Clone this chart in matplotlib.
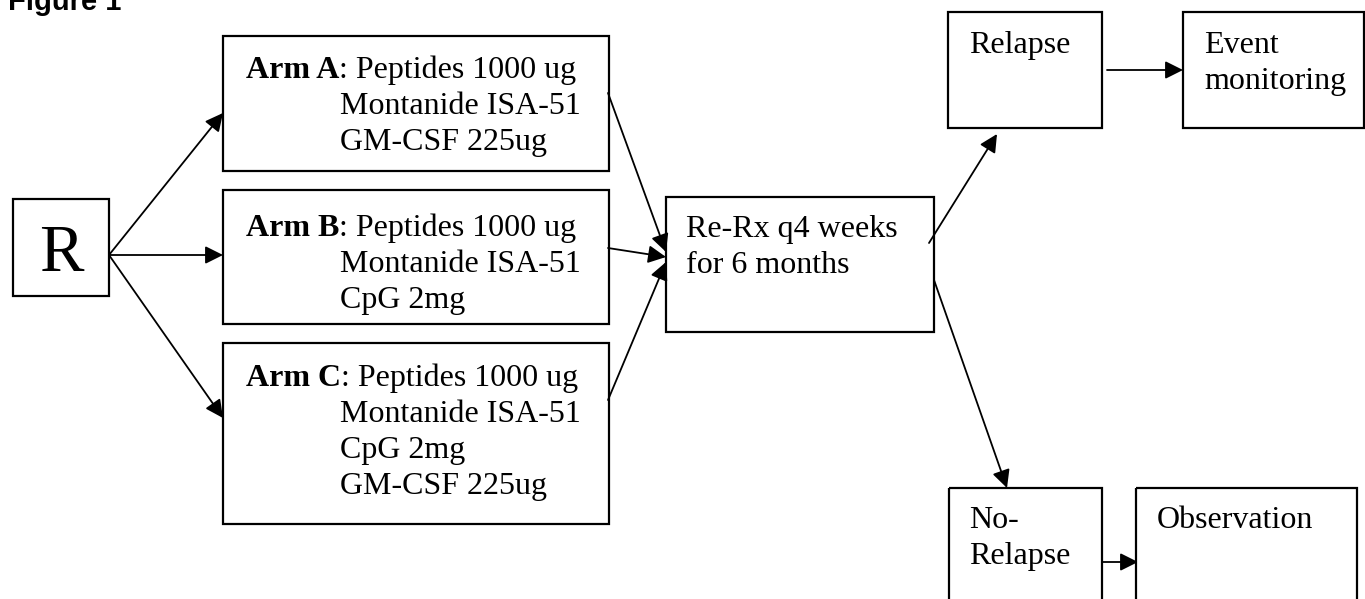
import matplotlib
matplotlib.use("Agg")
import matplotlib.pyplot as plt
from matplotlib.patches import Rectangle

# labels
arm_names = ["Arm A", "Arm B", "Arm C"]
arm_first = [": Peptides 1000 ug", ": Peptides 1000 ug", ": Peptides 1000 ug"]
arm_rest = [["Montanide ISA-51", "GM-CSF 225ug"],
            ["Montanide ISA-51", "CpG 2mg"],
            ["Montanide ISA-51", "CpG 2mg", "GM-CSF 225ug"]]
rerx_lines = ["Re-Rx q4 weeks", "for 6 months"]
relapse_lines = ["Relapse"]
event_lines = ["Event", "monitoring"]
norelapse_lines = ["No-", "Relapse"]
obs_lines = ["Observation"]
title = "Figure 1"

# layout in pixel coords (x, top, width, height)
W, H = 1365, 599
r_box = (13, 199, 96, 97)
arm_boxes = [(223, 36, 386, 135), (223, 190, 386, 134), (223, 343, 386, 181)]
rerx_box = (666, 197, 268, 135)
relapse_box = (948, 12, 154, 116)
event_box = (1183, 12, 181, 116)
norel_box = (949, 488, 153, 130)
obs_box = (1136, 488, 221, 130)

serif = "Liberation Serif"
fs = 23
lh = 36

fig = plt.figure(figsize=(W / 100, H / 100), dpi=100)
ax = fig.add_axes([0, 0, 1, 1])
ax.set_xlim(0, W)
ax.set_ylim(H, 0)
ax.axis("off")


def box(b):
    x, y, w, h = b
    ax.add_patch(Rectangle((x, y), w, h, fill=False, lw=1.6, ec="black"))


def lines(x, y0, txts):
    for i, t in enumerate(txts):
        ax.text(x, y0 + i * lh, t, family=serif, fontsize=fs, va="baseline", ha="left")


def arrow(p0, p1):
    ax.annotate("", xy=p1, xytext=p0,
                arrowprops=dict(arrowstyle="-|>", lw=1.3, color="black",
                                mutation_scale=27, shrinkA=0, shrinkB=0))


ax.text(8, 10, title, family="Liberation Sans", weight="bold", fontsize=21,
        va="baseline", ha="left")

# R box
box(r_box)
ax.text(r_box[0] + r_box[2] / 2, 271, "R", family=serif, fontsize=48,
        va="baseline", ha="center")

# arms
fig.canvas.draw()
rend = fig.canvas.get_renderer()
first_base = [78, 236, 386]
for b, name, first, rest, yb in zip(arm_boxes, arm_names, arm_first, arm_rest, first_base):
    box(b)
    t = ax.text(246, yb, name, family=serif, fontsize=fs, weight="bold",
                va="baseline", ha="left")
    ext = t.get_window_extent(rend).transformed(ax.transData.inverted())
    ax.text(ext.x1, yb, first, family=serif, fontsize=fs, va="baseline", ha="left")
    lines(340, yb + lh, rest)

box(rerx_box)
lines(686, 237, rerx_lines)
box(relapse_box)
lines(969, 53, relapse_lines)
box(event_box)
lines(1204, 53, event_lines)
box(norel_box)
lines(969, 528, norelapse_lines)
box(obs_box)
lines(1157, 528, obs_lines)

# arrows
arrow((109, 255), (223, 113))
arrow((109, 255), (223, 255))
arrow((109, 255), (223, 418))
arrow((608, 93), (666, 252))
arrow((608, 248), (666, 257))
arrow((608, 400), (666, 262))
arrow((929, 243), (997, 134))
arrow((934, 280), (1007, 488))
arrow((1107, 70), (1183, 70))
arrow((1102, 562), (1138, 562))

fig.savefig("out.png", dpi=100, facecolor="white")
